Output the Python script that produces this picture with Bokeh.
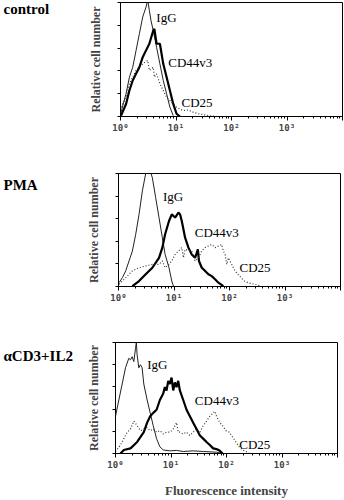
import numpy as np
from bokeh.plotting import figure
from bokeh.layouts import column, row
from bokeh.models import Label, FixedTicker, LogTicker, Range1d
from bokeh.core.properties import value
from bokeh.embed import file_html
from bokeh.resources import INLINE

# ---- data: x as log10(fluorescence), y as relative cell number (0-5 scale) ----
ctrl_igg_lx = [0.01, 0.10, 0.16, 0.22, 0.28, 0.34, 0.40, 0.46, 0.49, 0.52, 0.55, 0.59, 0.65, 0.71, 0.77, 0.83, 0.89, 0.95]
ctrl_igg_y = [0.19, 1.00, 1.72, 2.16, 2.89, 3.63, 4.36, 4.80, 5.10, 4.65, 4.20, 3.77, 3.04, 2.31, 1.58, 1.00, 0.41, 0.04]
ctrl_cd44_lx = [0.01, 0.10, 0.16, 0.22, 0.28, 0.34, 0.40, 0.46, 0.52, 0.59, 0.61, 0.65, 0.71, 0.77, 0.83, 0.89, 0.95, 1.01, 1.07]
ctrl_cd44_y = [0.04, 0.55, 1.14, 1.58, 1.87, 2.16, 2.60, 2.90, 3.19, 3.77, 3.84, 3.19, 3.19, 2.31, 1.73, 1.14, 0.55, 0.12, 0.00]
ctrl_cd25_lx = [0.01, 0.10, 0.16, 0.28, 0.40, 0.49, 0.52, 0.59, 0.61, 0.65, 0.71, 0.77, 0.83, 0.89, 0.95, 1.01, 1.07, 1.13, 1.22, 1.31, 1.40, 1.55, 1.70]
ctrl_cd25_y = [0.41, 0.85, 1.43, 2.02, 2.31, 2.46, 2.02, 2.16, 1.73, 1.87, 1.43, 1.14, 0.85, 0.70, 0.55, 0.41, 0.33, 0.26, 0.28, 0.19, 0.12, 0.06, 0.00]

pma_igg_lx = [0.01, 0.07, 0.13, 0.19, 0.25, 0.31, 0.37, 0.43, 0.49, 0.55, 0.61, 0.67, 0.73, 0.79, 0.84, 0.91, 0.96, 0.99]
pma_igg_y = [0.17, 0.39, 0.69, 1.13, 1.57, 2.31, 3.19, 4.23, 5.00, 5.30, 4.81, 3.93, 3.05, 2.16, 1.42, 0.83, 0.24, 0.02]
pma_cd44_lx = [0.25, 0.37, 0.49, 0.61, 0.73, 0.79, 0.84, 0.91, 0.96, 1.02, 1.08, 1.11, 1.14, 1.20, 1.26, 1.32, 1.38, 1.43, 1.45, 1.50, 1.56, 1.62, 1.68, 1.74, 1.80, 1.89]
pma_cd44_y = [0.02, 0.24, 0.54, 0.83, 1.27, 1.72, 2.31, 2.90, 3.19, 3.05, 3.27, 3.19, 2.90, 2.16, 1.72, 1.42, 1.27, 1.64, 1.13, 0.83, 0.69, 0.54, 0.46, 0.32, 0.17, 0.02]
pma_cd25_lx = [0.01, 0.13, 0.25, 0.37, 0.49, 0.61, 0.73, 0.79, 0.84, 0.91, 0.96, 1.02, 1.08, 1.14, 1.17, 1.20, 1.32, 1.38, 1.44, 1.50, 1.56, 1.62, 1.68, 1.74, 1.80, 1.86, 1.89, 1.92, 1.95, 1.98, 2.04, 2.10, 2.15, 2.21, 2.27, 2.33, 2.45, 2.57]
pma_cd25_y = [0.10, 0.39, 0.69, 0.83, 0.91, 0.98, 0.98, 1.13, 0.83, 0.98, 1.13, 1.42, 1.57, 1.72, 1.27, 1.64, 1.57, 1.13, 1.27, 1.57, 1.72, 1.79, 1.86, 1.72, 1.79, 1.86, 1.57, 1.42, 0.98, 1.27, 0.98, 0.69, 0.54, 0.39, 0.24, 0.17, 0.10, 0.02]

cd3_igg_lx = [0.00, 0.06, 0.12, 0.18, 0.24, 0.27, 0.30, 0.33, 0.36, 0.375, 0.39, 0.42, 0.45, 0.48, 0.51, 0.57, 0.625, 0.68, 0.74, 0.80, 0.86, 0.98, 1.10, 1.22, 1.40, 1.58, 1.82, 1.93]
cd3_igg_y = [1.68, 2.41, 3.13, 3.86, 4.29, 4.22, 4.36, 4.14, 4.72, 5.00, 4.43, 3.86, 4.00, 3.86, 3.13, 2.41, 1.83, 1.25, 0.67, 0.30, 0.16, 0.12, 0.14, 0.09, 0.12, 0.09, 0.06, 0.00]
cd3_cd44_lx = [0.09, 0.15, 0.27, 0.39, 0.51, 0.57, 0.625, 0.68, 0.74, 0.80, 0.86, 0.89, 0.92, 0.95, 0.98, 1.01, 1.04, 1.07, 1.10, 1.13, 1.16, 1.22, 1.28, 1.34, 1.40, 1.46, 1.52, 1.58, 1.64, 1.70, 1.76, 1.82, 1.88, 1.93]
cd3_cd44_y = [0.00, 0.16, 0.23, 0.52, 0.96, 1.39, 1.68, 1.83, 1.97, 2.41, 2.70, 2.99, 2.84, 3.27, 3.13, 3.42, 2.84, 3.20, 2.99, 3.27, 2.84, 2.41, 1.97, 1.68, 1.39, 1.10, 0.81, 0.67, 0.52, 0.38, 0.23, 0.20, 0.12, 0.00]
cd3_cd25_lx = [0.00, 0.09, 0.15, 0.21, 0.27, 0.33, 0.39, 0.45, 0.51, 0.57, 0.625, 0.68, 0.74, 0.80, 0.86, 0.92, 0.98, 1.04, 1.10, 1.13, 1.16, 1.22, 1.28, 1.34, 1.40, 1.46, 1.52, 1.58, 1.64, 1.70, 1.76, 1.79, 1.82, 1.88, 1.93, 1.99, 2.05, 2.11, 2.17, 2.23, 2.29, 2.35, 2.41]
cd3_cd25_y = [0.09, 0.38, 0.67, 0.96, 1.10, 1.46, 1.25, 1.03, 1.10, 1.17, 1.03, 1.10, 0.96, 1.03, 0.88, 0.96, 0.96, 1.10, 1.39, 0.96, 0.96, 0.88, 0.96, 0.81, 0.96, 1.10, 0.96, 1.25, 1.46, 1.68, 1.83, 1.90, 1.68, 1.39, 1.25, 1.03, 0.96, 0.74, 0.52, 0.30, 0.16, 0.09, 0.00]

panel_names = ["control", "PMA", "\u03b1CD3+IL2"]
series_names = ["IgG", "CD44v3", "CD25"]
tick_labels = {1: "10\u2070", 10: "10\u00b9", 100: "10\u00b2", 1000: "10\u00b3", 10000: ""}
y_label = "Relative cell number"
x_label = "Fluorescence intensity"

# annotation positions (log10 x, y) for series names in each panel
name_pos = [
    [(0.645, 4.34), (0.86, 2.37), (1.10, 0.61)],
    [(0.80, 4.00), (1.375, 2.37), (2.18, 0.82)],
    [(0.57, 4.00), (1.43, 2.39), (2.23, 0.39)],
]

data = [
    [(ctrl_igg_lx, ctrl_igg_y), (ctrl_cd44_lx, ctrl_cd44_y), (ctrl_cd25_lx, ctrl_cd25_y)],
    [(pma_igg_lx, pma_igg_y), (pma_cd44_lx, pma_cd44_y), (pma_cd25_lx, pma_cd25_y)],
    [(cd3_igg_lx, cd3_igg_y), (cd3_cd44_lx, cd3_cd44_y), (cd3_cd25_lx, cd3_cd25_y)],
]

NAME_W = 76
# layout per panel: (height, border top, bottom, left (after name column), right)
geom = [
    (165, 2, 49, 120 - NAME_W, 2),
    (165, 8, 44, 118 - NAME_W, 4),
    (170, 12, 43, 115 - NAME_W, 7),
]
# panel name position inside the name column: (x px from left, y px from bottom)
pname_xy = [(3, 155), (3, 148), (3, 150)]
ylabel_standoff = [15, 15, 12]

SERIF = "Liberation Serif"
styles = [
    dict(line_width=1.0, line_color="#222222"),
    dict(line_width=2.2, line_color="black"),
    dict(line_width=1.2, line_color="#333333", line_dash="1 2"),
]

rows = []
for i in range(3):
    h, bt, bb, bl, br = geom[i]

    # name column
    nf = figure(width=NAME_W, height=h, output_backend="svg", toolbar_location=None,
                x_range=Range1d(0, NAME_W), y_range=Range1d(0, h),
                min_border=0, outline_line_color=None)
    nf.axis.visible = False
    nf.grid.visible = False
    nf.text(x=[pname_xy[i][0]], y=[pname_xy[i][1]], text=[panel_names[i]],
            text_font=value(SERIF), text_font_style="bold", text_font_size="15px",
            text_align="left", text_baseline="middle", text_color="black")

    p = figure(width=344 - NAME_W, height=h, x_axis_type="log", output_backend="svg",
               toolbar_location=None, x_range=Range1d(1, 10000), y_range=Range1d(0, 5),
               min_border_top=bt, min_border_bottom=bb, min_border_left=bl, min_border_right=br)
    p.grid.visible = False
    p.outline_line_color = "black"
    p.outline_line_width = 1

    for (lx, yy), st in zip(data[i], styles):
        p.line(10 ** np.array(lx), yy, **st)

    for name, (lx, yy) in zip(series_names, name_pos[i]):
        p.add_layout(Label(x=10 ** lx, y=yy, text=name, text_font=SERIF, text_font_size="13px",
                           text_baseline="middle", text_align="left", text_color="black"))

    xa = p.xaxis[0]
    xa.ticker = LogTicker(num_minor_ticks=10)
    xa.major_label_overrides = tick_labels
    xa.major_label_text_font = "DejaVu Sans Mono"
    xa.major_label_text_font_size = "9px"
    xa.major_label_text_font_style = "bold"
    xa.major_label_standoff = 2
    xa.major_tick_in = 0
    xa.major_tick_out = 4
    xa.minor_tick_in = 0
    xa.minor_tick_out = 2
    xa.axis_line_color = "black"
    if i == 2:
        xa.axis_label = x_label
        xa.axis_label_text_font = SERIF
        xa.axis_label_text_font_style = "bold"
        xa.axis_label_text_font_size = "13px"
        xa.axis_label_standoff = 10

    ya = p.yaxis[0]
    ya.ticker = FixedTicker(ticks=[0, 1, 2, 3, 4, 5], minor_ticks=[])
    ya.major_label_overrides = {k: "" for k in [0, 1, 2, 3, 4, 5]}
    ya.major_label_standoff = 0
    ya.major_tick_in = 0
    ya.major_tick_out = 3
    ya.minor_tick_in = 0
    ya.minor_tick_out = 0
    ya.axis_label = y_label
    ya.axis_label_text_font = SERIF
    ya.axis_label_text_font_style = "bold"
    ya.axis_label_text_font_size = "12px"
    ya.axis_label_standoff = ylabel_standoff[i]

    rows.append(row(nf, p, spacing=0))

layout = column(*rows, spacing=0)
open("out.html", "w").write(file_html(layout, INLINE))
